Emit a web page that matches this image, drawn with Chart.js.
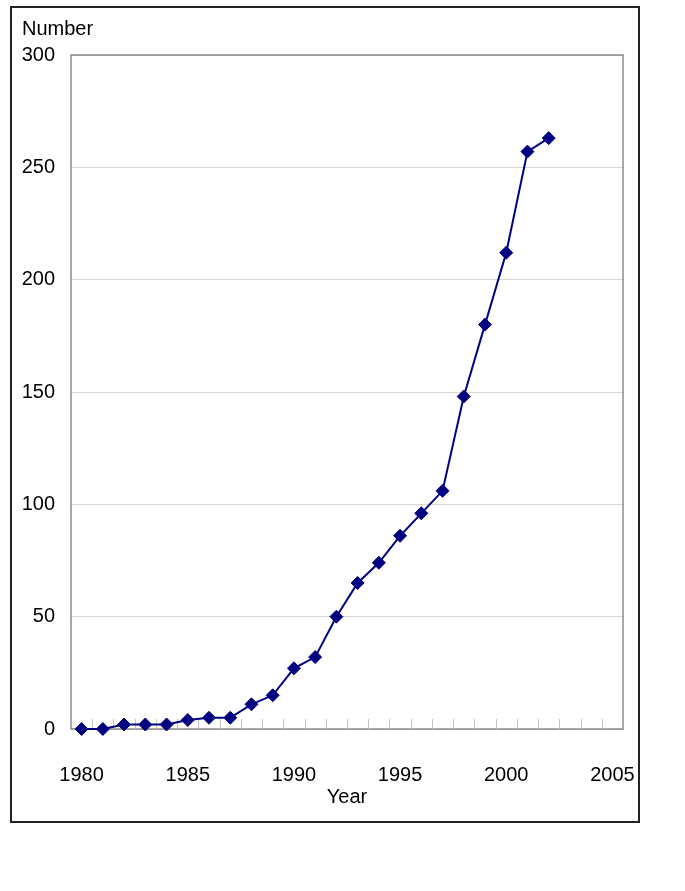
<!DOCTYPE html>
<html>
<head>
<meta charset="utf-8">
<script src="https://cdn.jsdelivr.net/npm/chart.js@4"></script>
<style>
  html, body { margin: 0; padding: 0; background: #fff; }
  #frame {
    position: absolute; left: 10px; top: 6px;
    width: 626px; height: 813px;
    border: 2px solid #222;
  }
  #chart { display: block; }
</style>
</head>
<body>
<div id="frame"><canvas id="chart" width="626" height="813"></canvas></div>
<script>
// data
const years = [1980, 1981, 1982, 1983, 1984, 1985, 1986, 1987, 1988, 1989, 1990,
  1991, 1992, 1993, 1994, 1995, 1996, 1997, 1998, 1999, 2000, 2001, 2002];
const counts = [0, 0, 2, 2, 2, 4, 5, 5, 11, 15, 27,
  32, 50, 65, 74, 86, 96, 106, 148, 180, 212, 257, 263];
const yearLabels = [1980, 1985, 1990, 1995, 2000, 2005];
const numberTicks = [0, 50, 100, 150, 200, 250, 300];

const FONT = "'Liberation Sans', Arial, sans-serif";

// frame round the plot, little ticks between years, and the "Number" caption
const plotDecor = {
  id: "plotDecor",
  beforeDatasetsDraw(chart) {
    const ctx = chart.ctx;
    const a = chart.chartArea;
    const x = chart.scales.x;
    ctx.save();
    ctx.strokeStyle = "#8a8a8a";
    ctx.lineWidth = 1.5;
    ctx.strokeRect(a.left, a.top, a.right - a.left, a.bottom - a.top);
    ctx.lineWidth = 1;
    ctx.strokeStyle = "#c4c4c4";
    for (let yr = yearLabels[0]; yr < yearLabels[yearLabels.length - 1]; yr++) {
      const px = Math.round(x.getPixelForValue(yr + 0.5)) + 0.5;
      ctx.beginPath();
      ctx.moveTo(px, a.bottom);
      ctx.lineTo(px, a.bottom - 10);
      ctx.stroke();
    }
    ctx.restore();
  },
  afterDraw(chart) {
    const ctx = chart.ctx;
    const a = chart.chartArea;
    ctx.save();
    ctx.fillStyle = "#000";
    ctx.font = "20px " + FONT;
    ctx.textBaseline = "middle";
    ctx.textAlign = "left";
    ctx.fillText("Number", a.left - 49, a.top - 26);
    ctx.restore();
  }
};

new Chart(document.getElementById("chart"), {
  type: "line",
  data: {
    datasets: [{
      data: years.map(function(y, i) { return { x: y, y: counts[i] }; }),
      borderColor: "#000080",
      backgroundColor: "#000080",
      borderWidth: 2,
      pointStyle: "rectRot",
      pointRadius: 6.5,
      pointBorderWidth: 1,
      tension: 0,
      clip: false
    }]
  },
  options: {
    responsive: false,
    animation: false,
    layout: { padding: { top: 47, right: 15, left: 0, bottom: 0 } },
    plugins: {
      legend: { display: false },
      tooltip: { enabled: false }
    },
    scales: {
      x: {
        type: "linear",
        min: yearLabels[0] - 0.5,
        max: yearLabels[yearLabels.length - 1] + 0.5,
        afterBuildTicks: function(axis) {
          axis.ticks = yearLabels.map(function(v) { return { value: v }; });
        },
        afterFit: function(axis) {
          axis.height = 92;
          axis.paddingLeft = 0;
          axis.paddingRight = 0;
        },
        grid: { display: false, drawTicks: false },
        border: { display: false },
        ticks: {
          padding: 34,
          color: "#000",
          font: { family: FONT, size: 20 },
          maxRotation: 0,
          autoSkip: false,
          callback: function(v) { return String(v); }
        },
        title: {
          display: true,
          text: "Year",
          color: "#000",
          font: { family: FONT, size: 20 },
          padding: { top: 0, bottom: 12 }
        }
      },
      y: {
        min: 0,
        max: 300,
        afterBuildTicks: function(axis) {
          axis.ticks = numberTicks.map(function(v) { return { value: v }; });
        },
        afterFit: function(axis) {
          axis.width = 59;
          axis.paddingTop = 0;
          axis.paddingBottom = 0;
        },
        grid: {
          color: "#d6d6d6",
          lineWidth: 1,
          drawTicks: false
        },
        border: { display: false },
        ticks: {
          padding: 16,
          color: "#000",
          font: { family: FONT, size: 20 }
        }
      }
    }
  },
  plugins: [plotDecor]
});
</script>
</body>
</html>
